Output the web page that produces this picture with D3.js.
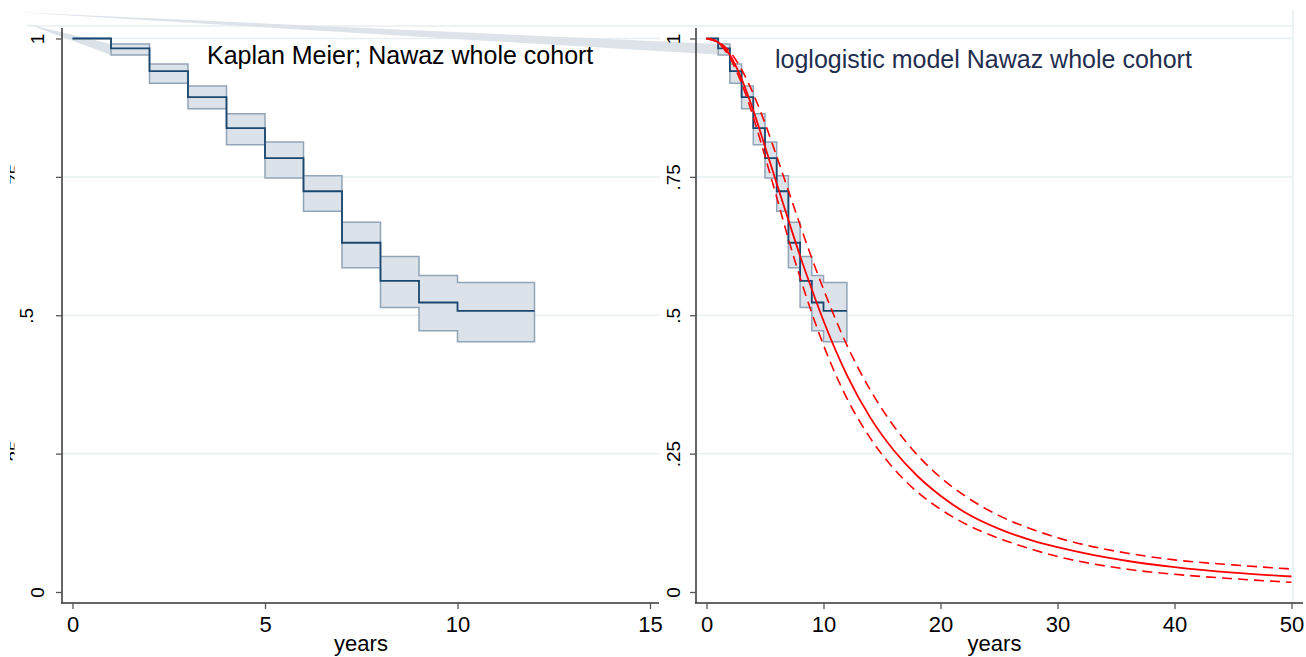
<!DOCTYPE html>
<html>
<head>
<meta charset="utf-8">
<script src="https://cdn.jsdelivr.net/npm/d3@7"></script>
<style>
  html, body { margin: 0; padding: 0; background: #fff; }
  svg { display: block; font-family: "Liberation Sans", Arial, sans-serif; }
</style>
</head>
<body>
<svg id="chart" width="1306" height="657"></svg>
<script>
// ---------------- data ----------------
const kmTimes = [0, 1, 2, 3, 4, 5, 6, 7, 8, 9, 10, 12];
const kmSurv  = [1, 0.982, 0.941, 0.894, 0.838, 0.784, 0.724, 0.631, 0.562, 0.523, 0.508, 0.508];
const kmUpper = [1, 0.990, 0.954, 0.914, 0.864, 0.813, 0.752, 0.668, 0.606, 0.572, 0.559, 0.559];
const kmLower = [1, 0.970, 0.919, 0.873, 0.808, 0.748, 0.688, 0.586, 0.514, 0.472, 0.452, 0.452];

const llTimes = [0, 1, 2, 3, 4, 5, 6, 7, 8, 9, 10, 12, 14, 16, 18, 20, 22, 25, 28, 30, 33, 36, 40, 45, 50];
const llSurv  = [1, 0.993, 0.970, 0.927, 0.870, 0.805, 0.738, 0.672, 0.607, 0.547, 0.490, 0.392, 0.315, 0.256, 0.210, 0.174, 0.145, 0.114, 0.092, 0.081, 0.067, 0.056, 0.045, 0.035, 0.028];
const llUpper = [1, 0.994, 0.976, 0.944, 0.900, 0.847, 0.787, 0.725, 0.663, 0.603, 0.547, 0.446, 0.365, 0.300, 0.248, 0.207, 0.175, 0.138, 0.112, 0.098, 0.082, 0.070, 0.058, 0.049, 0.0415];
const llLower = [1, 0.992, 0.965, 0.919, 0.858, 0.787, 0.713, 0.638, 0.568, 0.504, 0.446, 0.350, 0.278, 0.223, 0.181, 0.1495, 0.1245, 0.097, 0.076, 0.064, 0.051, 0.041, 0.032, 0.024, 0.0175];

const yTicks = [0, 0.25, 0.5, 0.75, 1];
const yTickLabels = ["0", ".25", ".5", ".75", "1"];
const xTicksLeft = [0, 5, 10, 15];
const xTicksRight = [0, 10, 20, 30, 40, 50];
const titleLeft = "Kaplan Meier; Nawaz whole cohort";
const titleRight = "loglogistic model Nawaz whole cohort";
const xTitle = "years";

// ---------------- layout ----------------
const svg = d3.select("#chart");
const y = d3.scaleLinear().domain([0, 1]).range([592, 38.5]);
const xL = d3.scaleLinear().domain([0, 15]).range([72.5, 650]);
const xR = d3.scaleLinear().domain([0, 50]).range([706.5, 1291.5]);

const panels = [
  { x: xL, axisX: 62, right: 660, axisEnd: 659, ticks: xTicksLeft, left: true },
  { x: xR, axisX: 696, right: 1293, axisEnd: 1303, ticks: xTicksRight, left: false }
];
const axisY = 603;

const NAVY = "#1a476f";
const BAND_FILL = "#dce2e9";
const BAND_STROKE = "#91a4b8";
const GRID = "#e7eff1";

svg.append("defs").append("clipPath").attr("id", "leftLabelClip")
  .append("rect").attr("x", 10).attr("y", 0).attr("width", 4.5).attr("height", 657);

// light frame lines
svg.append("line").attr("x1", 27).attr("x2", 1293).attr("y1", 26).attr("y2", 26)
  .attr("stroke", GRID).attr("stroke-width", 1.5);
svg.append("line").attr("x1", 1293).attr("x2", 1293).attr("y1", 10).attr("y2", axisY)
  .attr("stroke", GRID).attr("stroke-width", 1.5);

// gridlines
panels.forEach(p => {
  svg.append("g").selectAll("line").data(yTicks.filter(d => d > 0)).join("line")
    .attr("x1", p.axisX).attr("x2", p.right)
    .attr("y1", d => y(d)).attr("y2", d => y(d))
    .attr("stroke", GRID).attr("stroke-width", 1.5);
});

// stray band artefacts (light wedges)
const art = svg.append("g").attr("fill", BAND_FILL).attr("stroke", "none");
art.append("path").attr("d",
  `M12,12 L${xR(kmTimes[1])},${y(kmUpper[1])} L${xR(kmTimes[1]) + 6},${y(kmLower[1])} Z`)
  .attr("opacity", 0.95);
art.append("path").attr("d",
  `M27,24 L${xL(kmTimes[1])},${y(kmUpper[1])} L${xL(kmTimes[1])},${y(kmLower[1])} Z`);

const kmData = kmTimes.map((t, i) => ({ t, s: kmSurv[i], u: kmUpper[i], l: kmLower[i] }));
const llData = llTimes.map((t, i) => ({ t, s: llSurv[i], u: llUpper[i], l: llLower[i] }));

panels.forEach(p => {
  const g = svg.append("g");
  const area = d3.area().curve(d3.curveStepAfter)
    .x(d => p.x(d.t)).y0(d => y(d.l)).y1(d => y(d.u));
  g.append("path").datum(kmData).attr("d", area)
    .attr("fill", BAND_FILL).attr("stroke", BAND_STROKE).attr("stroke-width", 1.5);
  const line = d3.line().curve(d3.curveStepAfter).x(d => p.x(d.t)).y(d => y(d.s));
  g.append("path").datum(kmData).attr("d", line)
    .attr("fill", "none").attr("stroke", NAVY).attr("stroke-width", 1.8);
});

// loglogistic model curves (right panel)
const rg = svg.append("g").attr("fill", "none").attr("stroke", "#ff0000");
const mk = key => d3.line().curve(d3.curveMonotoneX).x(d => xR(d.t)).y(d => y(d[key]));
rg.append("path").datum(llData).attr("d", mk("u")).attr("stroke-width", 1.6).attr("stroke-dasharray", "10,6");
rg.append("path").datum(llData).attr("d", mk("l")).attr("stroke-width", 1.6).attr("stroke-dasharray", "10,6");
rg.append("path").datum(llData).attr("d", mk("s")).attr("stroke-width", 1.8);

// axes
panels.forEach(p => {
  svg.append("line").attr("x1", p.axisX).attr("x2", p.axisX).attr("y1", 28).attr("y2", axisY)
    .attr("stroke", "#333").attr("stroke-width", 1.5);
  svg.append("line").attr("x1", p.axisX - 1).attr("x2", p.axisEnd).attr("y1", axisY).attr("y2", axisY)
    .attr("stroke", "#333").attr("stroke-width", 1.5);

  const ya = svg.append("g").attr("class", p.left ? "yaxis-left" : "yaxis-right")
    .attr("transform", `translate(${p.axisX},0)`)
    .call(d3.axisLeft(y).tickValues(yTicks).tickSize(6)
      .tickFormat(d => yTickLabels[yTicks.indexOf(d)]));
  ya.select(".domain").remove();
  ya.selectAll(".tick line").attr("stroke", "#555").attr("stroke-width", 1.3);
  ya.selectAll(".tick text")
    .attr("x", 0).attr("dy", 0).attr("text-anchor", "middle")
    .attr("font-size", 19).attr("font-family", "Liberation Sans, Arial, sans-serif").attr("fill", "#000")
    .attr("transform", d => {
      const lab = yTickLabels[yTicks.indexOf(d)];
      let off;
      if (p.left) off = lab.length === 1 ? 18 : (lab === ".5" ? 29 : 40);
      else off = 16;
      return `translate(${-off},0) rotate(-90)`;
    });

  const xa = svg.append("g").attr("transform", `translate(0,${axisY})`)
    .call(d3.axisBottom(p.x).tickValues(p.ticks).tickSize(6).tickPadding(7).tickFormat(d3.format("d")));
  xa.select(".domain").remove();
  xa.selectAll(".tick line").attr("stroke", "#555").attr("stroke-width", 1.3);
  xa.selectAll(".tick text").attr("font-size", 22).attr("fill", "#000")
    .attr("font-family", "Liberation Sans, Arial, sans-serif");

  svg.append("text").attr("x", (p.axisX + p.right) / 2).attr("y", 651)
    .attr("text-anchor", "middle").attr("font-size", 22).attr("fill", "#000").text(xTitle);
});

// the left panel's .75 / .25 labels are cut off: only a sliver shows
svg.select(".yaxis-left").selectAll("g.tick")
  .filter(d => d === 0.25 || d === 0.75)
  .each(function(d) {
    const node = d3.select(this).select("text").node();
    const gClip = svg.append("g").attr("clip-path", "url(#leftLabelClip)");
    const inner = gClip.append("g").attr("transform", `translate(62,${y(d)})`);
    inner.node().appendChild(node);
  });

// titles
svg.append("text").attr("x", 207).attr("y", 63.5).attr("font-size", 25).attr("fill", "#000").text(titleLeft);
svg.append("text").attr("x", 775).attr("y", 67.5).attr("font-size", 25).attr("fill", "#1f2e4f").text(titleRight);
</script>
</body>
</html>
